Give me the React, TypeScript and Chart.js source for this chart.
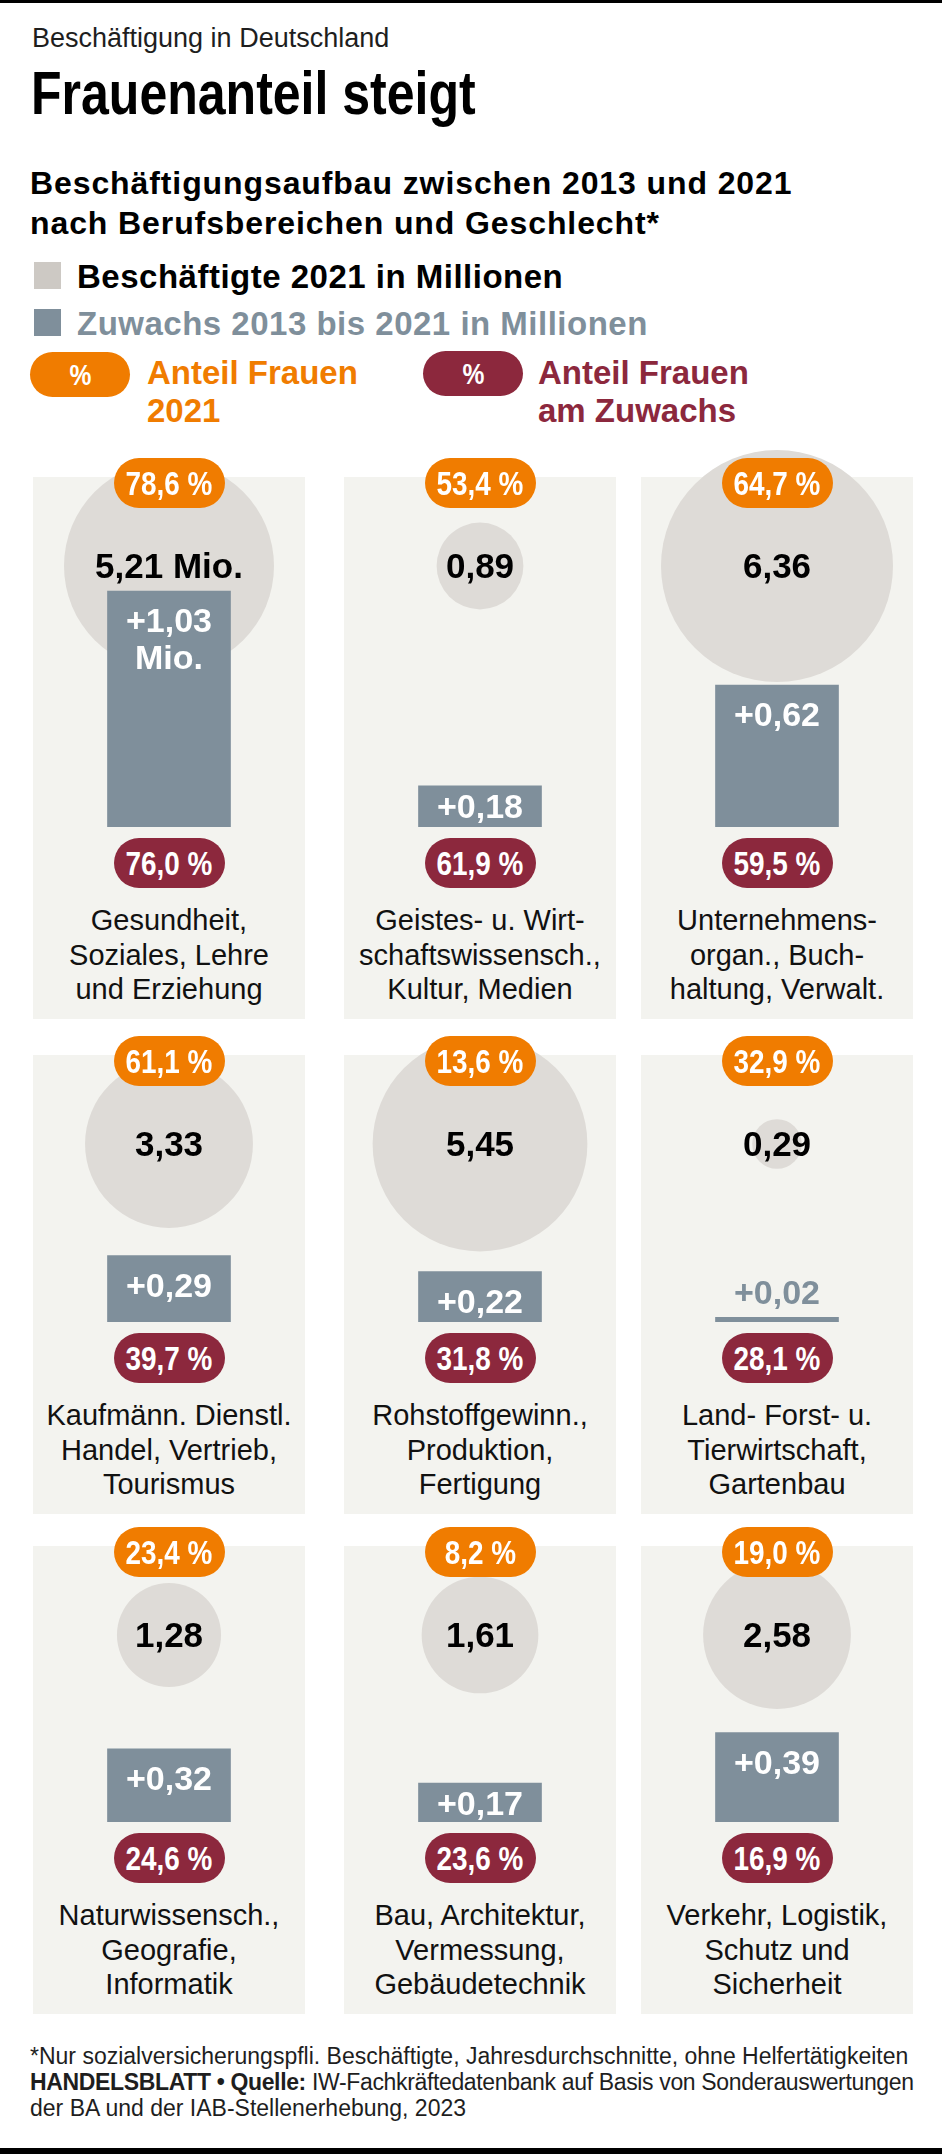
import React, { useEffect, useRef } from "react";
import { Chart, registerables } from "chart.js";

Chart.register(...registerables);

// ---------- data ----------
const CATEGORIES: string[][] = [
  ["Gesundheit,", "Soziales, Lehre", "und Erziehung"],
  ["Geistes- u. Wirt-", "schaftswissensch.,", "Kultur, Medien"],
  ["Unternehmens-", "organ., Buch-", "haltung, Verwalt."],
  ["Kaufmänn. Dienstl.", "Handel, Vertrieb,", "Tourismus"],
  ["Rohstoffgewinn.,", "Produktion,", "Fertigung"],
  ["Land- Forst- u.", "Tierwirtschaft,", "Gartenbau"],
  ["Naturwissensch.,", "Geografie,", "Informatik"],
  ["Bau, Architektur,", "Vermessung,", "Gebäudetechnik"],
  ["Verkehr, Logistik,", "Schutz und", "Sicherheit"],
];
const EMPLOYED_2021 = [5.21, 0.89, 6.36, 3.33, 5.45, 0.29, 1.28, 1.61, 2.58];
const GROWTH_2013_2021 = [1.03, 0.18, 0.62, 0.29, 0.22, 0.02, 0.32, 0.17, 0.39];
const SHARE_WOMEN_2021 = [78.6, 53.4, 64.7, 61.1, 13.6, 32.9, 23.4, 8.2, 19.0];
const SHARE_WOMEN_GROWTH = [76.0, 61.9, 59.5, 39.7, 31.8, 28.1, 24.6, 23.6, 16.9];

// ---------- style / layout ----------
const SANS = '"Liberation Sans", Arial, Helvetica, sans-serif';
const ORANGE = "#F07C00";
const MAROON = "#8C283D";
const BAR_COLOR = "#7F8F9B";
const BUBBLE_COLOR = "#DEDBD7";
const LEGEND_BUBBLE = "#CDC9C4";
const PANEL_BG = "#F3F3EF";

const COL_LEFT = [33, 344, 641];
const PANEL_W = 272;
const ROW_TOP = [477, 1055, 1546];
const ROW_BASE = [350, 267, 276]; // bar baseline offset from panel top
const BUBBLE_OFFSET = 89; // bubble centre offset from panel top
const PX_PER_MIO = 229;
const BUBBLE_K = 46; // radius px per sqrt(Mio.)
const BAR_W = 123;
const CANVAS_OVER = 34;

const fmt = (v: number, d: number) => v.toFixed(d).replace(".", ",");

function textTop(baseline: number, f: number, l: number) {
  return baseline - l / 2 - 0.3465 * f;
}

function Narrow({ children, origin = "center" }: { children: React.ReactNode; origin?: string }) {
  return (
    <span style={{ display: "inline-block", transform: "scaleX(0.82)", transformOrigin: origin, whiteSpace: "nowrap" }}>
      {children}
    </span>
  );
}

function Pill({ left, top, w, h, color, text, size }: any) {
  return (
    <div
      style={{
        position: "absolute",
        left,
        top,
        width: w,
        height: h,
        borderRadius: h / 2,
        background: color,
        color: "#fff",
        fontFamily: SANS,
        fontWeight: 700,
        fontSize: size,
        lineHeight: `${h}px`,
        textAlign: "center",
        zIndex: 3,
      }}
    >
      <Narrow>{text}</Narrow>
    </div>
  );
}

function Panel({ i }: { i: number }) {
  const row = Math.floor(i / 3);
  const col = i % 3;
  const left = COL_LEFT[col];
  const top = ROW_TOP[row];
  const base = top + ROW_BASE[row];
  const panelH = ROW_BASE[row] + 192;
  const canvasTop = top - CANVAS_OVER;
  const canvasH = base - canvasTop;
  const bubbleCenter = top + BUBBLE_OFFSET;
  const cx = left + PANEL_W / 2;

  const canvasRef = useRef<HTMLCanvasElement | null>(null);
  const bubbleLabelRef = useRef<HTMLDivElement | null>(null);
  const barLabelRef = useRef<HTMLDivElement | null>(null);

  useEffect(() => {
    const canvas = canvasRef.current!;
    const chart = new Chart(canvas, {
      type: "bar",
      data: {
        labels: [CATEGORIES[i].join(" ")],
        datasets: [
          {
            type: "bar",
            data: [GROWTH_2013_2021[i]],
            backgroundColor: BAR_COLOR,
            borderWidth: 0,
            barThickness: BAR_W,
            order: 0,
            yAxisID: "y",
          } as any,
          {
            type: "bubble",
            data: [{ x: 0, y: 0, r: BUBBLE_K * Math.sqrt(EMPLOYED_2021[i]) }],
            backgroundColor: BUBBLE_COLOR,
            borderWidth: 0,
            order: 1,
            yAxisID: "yb",
            clip: false,
          } as any,
        ],
      },
      options: {
        animation: false,
        responsive: false,
        events: [],
        layout: { padding: 0, autoPadding: false },
        plugins: { legend: { display: false }, tooltip: { enabled: false } },
        scales: {
          x: { type: "category", display: false, offset: true, grid: { display: false } },
          y: { type: "linear", display: false, min: 0, max: canvasH / PX_PER_MIO },
          yb: {
            type: "linear",
            display: false,
            min: -(base - bubbleCenter),
            max: bubbleCenter - canvasTop,
          },
        },
      } as any,
    });

    const barEl: any = chart.getDatasetMeta(0).data[0];
    const bubEl: any = chart.getDatasetMeta(1).data[0];
    const barTop = canvasTop + barEl.y;
    const h = base - barTop;
    const bubY = canvasTop + bubEl.y;
    if (bubbleLabelRef.current) bubbleLabelRef.current.style.top = `${bubY - 18}px`;
    if (barLabelRef.current) {
      const el = barLabelRef.current;
      let t: number;
      if (h >= 44) t = barTop + 11;
      else if (h >= 20) t = barTop + h / 2 - 18;
      else {
        t = barTop - 43;
        el.style.color = BAR_COLOR;
      }
      el.style.top = `${t}px`;
    }
    return () => chart.destroy();
  }, []);

  const growthText = "+" + fmt(GROWTH_2013_2021[i], 2);
  const empText = fmt(EMPLOYED_2021[i], 2) + (i === 0 ? " Mio." : "");

  return (
    <>
      <div style={{ position: "absolute", left, top, width: PANEL_W, height: panelH, background: PANEL_BG, zIndex: 0 }} />
      <canvas
        ref={canvasRef}
        width={PANEL_W}
        height={canvasH}
        style={{ position: "absolute", left, top: canvasTop, width: PANEL_W, height: canvasH, zIndex: 1 }}
      />
      <div
        ref={bubbleLabelRef}
        style={{
          position: "absolute",
          left,
          top: bubbleCenter - 18,
          width: PANEL_W,
          textAlign: "center",
          fontFamily: SANS,
          fontWeight: 700,
          fontSize: 35,
          lineHeight: "36px",
          color: "#000",
          zIndex: 2,
        }}
      >
        {empText}
      </div>
      <div
        ref={barLabelRef}
        style={{
          position: "absolute",
          left,
          top: base - 40,
          width: PANEL_W,
          textAlign: "center",
          fontFamily: SANS,
          fontWeight: 700,
          fontSize: 34,
          lineHeight: "37px",
          color: "#fff",
          zIndex: 2,
        }}
      >
        {growthText}
        {i === 0 ? (
          <>
            <br />
            Mio.
          </>
        ) : null}
      </div>
      <Pill left={cx - 55.5} top={top - 19} w={111} h={50} color={ORANGE} size={34} text={fmt(SHARE_WOMEN_2021[i], 1) + " %"} />
      <Pill left={cx - 55.5} top={base + 11} w={111} h={50} color={MAROON} size={34} text={fmt(SHARE_WOMEN_GROWTH[i], 1) + " %"} />
      <div
        style={{
          position: "absolute",
          left,
          top: base + 76,
          width: PANEL_W,
          textAlign: "center",
          fontFamily: SANS,
          fontSize: 29,
          lineHeight: "34.5px",
          color: "#111",
          zIndex: 2,
        }}
      >
        {CATEGORIES[i].map((l, k) => (
          <div key={k} style={{ whiteSpace: "nowrap" }}>{l}</div>
        ))}
      </div>
    </>
  );
}

export default function App() {
  const abs = (o: React.CSSProperties): React.CSSProperties => ({ position: "absolute", ...o });
  return (
    <div style={{ position: "relative", width: 942, height: 2154, background: "#fff", overflow: "hidden", fontFamily: SANS }}>
      <style>{`body{margin:0;background:#fff}`}</style>
      <div style={abs({ left: 0, top: 0, width: 942, height: 3, background: "#000" })} />

      <div style={abs({ left: 32, top: textTop(48, 27, 27), fontSize: 27, lineHeight: "27px", color: "#1e1e1e", whiteSpace: "nowrap" })}>
        Beschäftigung in Deutschland
      </div>
      <div style={abs({ left: 31, top: textTop(115, 61, 61), fontSize: 61, lineHeight: "61px", fontWeight: 700, color: "#000" })}>
        <Narrow origin="left">Frauenanteil steigt</Narrow>
      </div>
      <div
        style={abs({
          left: 30,
          top: textTop(194, 32, 40),
          fontSize: 32,
          lineHeight: "40px",
          fontWeight: 700,
          letterSpacing: 0.9,
          color: "#000",
          whiteSpace: "nowrap",
        })}
      >
        Beschäftigungsaufbau zwischen 2013 und 2021
        <br />
        nach Berufsbereichen und Geschlecht*
      </div>

      <div style={abs({ left: 34, top: 262, width: 27, height: 27, background: LEGEND_BUBBLE })} />
      <div style={abs({ left: 77, top: textTop(288, 33, 33), fontSize: 33, lineHeight: "33px", fontWeight: 700, letterSpacing: 0.5, color: "#000", whiteSpace: "nowrap" })}>
        Beschäftigte 2021 in Millionen
      </div>
      <div style={abs({ left: 34, top: 309, width: 27, height: 27, background: BAR_COLOR })} />
      <div style={abs({ left: 77, top: textTop(335, 33, 33), fontSize: 33, lineHeight: "33px", fontWeight: 700, letterSpacing: 0.5, color: BAR_COLOR, whiteSpace: "nowrap" })}>
        Zuwachs 2013 bis 2021 in Millionen
      </div>

      <Pill left={30} top={352} w={100} h={45} color={ORANGE} size={30} text="%" />
      <div style={abs({ left: 147, top: textTop(384, 33, 38), fontSize: 33, lineHeight: "38px", fontWeight: 700, color: ORANGE, whiteSpace: "nowrap" })}>
        Anteil Frauen
        <br />
        2021
      </div>
      <Pill left={423} top={351} w={100} h={45} color={MAROON} size={30} text="%" />
      <div style={abs({ left: 538, top: textTop(384, 33, 38), fontSize: 33, lineHeight: "38px", fontWeight: 700, color: MAROON, whiteSpace: "nowrap" })}>
        Anteil Frauen
        <br />
        am Zuwachs
      </div>

      {CATEGORIES.map((_, i) => (
        <Panel key={i} i={i} />
      ))}

      <div style={abs({ left: 30, top: textTop(2064, 23, 26), fontSize: 23, lineHeight: "26px", color: "#1e1e1e", whiteSpace: "nowrap" })}>
        <div>*Nur sozialversicherungspfli. Beschäftigte, Jahresdurchschnitte, ohne Helfertätigkeiten</div>
        <div style={{ letterSpacing: -0.35 }}>
          <b>HANDELSBLATT • Quelle:</b> IW-Fachkräftedatenbank auf Basis von Sonderauswertungen
        </div>
        <div>der BA und der IAB-Stellenerhebung, 2023</div>
      </div>
      <div style={abs({ left: 0, top: 2148, width: 942, height: 6, background: "#000" })} />
    </div>
  );
}
